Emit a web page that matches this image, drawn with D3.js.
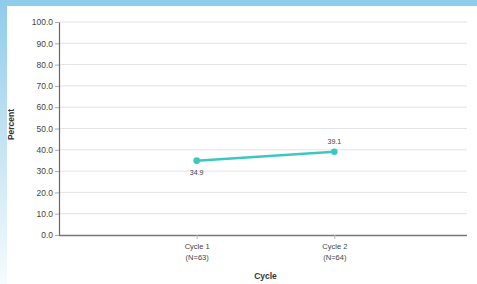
<!DOCTYPE html>
<html>
<head>
<meta charset="utf-8">
<script src="https://cdn.jsdelivr.net/npm/d3@7"></script>
<style>
  html, body { margin: 0; padding: 0; background: #fff; }
  #chart { width: 477px; height: 284px; }
</style>
</head>
<body>
<div id="chart"></div>
<script>
// data
const categories = ["Cycle 1", "Cycle 2"];
const sampleSizes = ["(N=63)", "(N=64)"];
const percents = [34.9, 39.1];
const yTicks = [0, 10, 20, 30, 40, 50, 60, 70, 80, 90, 100];

const W = 477, H = 284;
const margin = {top: 22, right: 5, bottom: 49, left: 59};
const width = W - margin.left - margin.right;
const height = H - margin.top - margin.bottom;

const root = d3.select("#chart").append("svg")
    .attr("width", W)
    .attr("height", H)
    .style("font-family", "Arial, 'Liberation Sans', sans-serif");

// blue frame around the slide
const defs = root.append("defs");
const grad = defs.append("linearGradient")
    .attr("id", "leftFade").attr("x1", 0).attr("y1", 0).attr("x2", 0).attr("y2", 1);
grad.append("stop").attr("offset", "0%").attr("stop-color", "#8fcbea");
grad.append("stop").attr("offset", "60%").attr("stop-color", "#cfe8f6");
grad.append("stop").attr("offset", "100%").attr("stop-color", "#f6fbfe");
root.append("rect").attr("x", 0).attr("y", 0).attr("width", 7).attr("height", H).attr("fill", "url(#leftFade)");
root.append("rect").attr("x", 0).attr("y", 0).attr("width", W).attr("height", 6).attr("fill", "#8fcbea");

const svg = root.append("g")
    .attr("transform", "translate(" + margin.left + "," + margin.top + ")");

const x = d3.scalePoint()
    .domain(categories)
    .range([0, width])
    .padding(1);

const y = d3.scaleLinear()
    .domain([0, 100])
    .range([height, 0]);

// gridlines
svg.append("g")
    .selectAll("line")
    .data(yTicks.filter(d => d > 0))
    .enter().append("line")
    .attr("x1", 0).attr("x2", width - 5)
    .attr("y1", d => y(d)).attr("y2", d => y(d))
    .attr("stroke", "#e3e3e3")
    .attr("stroke-width", 1);

// y axis
const yAxis = svg.append("g")
    .call(d3.axisLeft(y).tickValues(yTicks).tickFormat(d3.format(".1f")).tickSize(4).tickSizeOuter(0));
yAxis.select(".domain").attr("stroke", "#666").attr("stroke-width", 1.2);
yAxis.selectAll(".tick line").attr("stroke", "#aaa");
yAxis.selectAll(".tick text").attr("fill", "#444").attr("font-size", 8.5).attr("x", -6);

// x axis
const xAxis = svg.append("g")
    .attr("transform", "translate(0," + height + ")")
    .call(d3.axisBottom(x).tickSize(4).tickSizeOuter(0));
xAxis.select(".domain").attr("stroke", "#777").attr("stroke-width", 1.5)
    .attr("d", "M0,0.5H" + (width - 5));
xAxis.selectAll(".tick line").attr("stroke", "#bbb");
xAxis.selectAll(".tick text").remove();
xAxis.selectAll(".tick").each(function(d, i) {
    const t = d3.select(this).append("text")
        .attr("fill", "#444")
        .attr("font-size", 7.5)
        .attr("text-anchor", "middle");
    t.append("tspan").attr("x", 0).attr("y", 14).text(d);
    t.append("tspan").attr("x", 0).attr("y", 25).text(sampleSizes[i]);
});

// axis titles
svg.append("text")
    .attr("x", x.range()[0] + width / 2)
    .attr("y", height + 44)
    .attr("text-anchor", "middle")
    .attr("font-size", 8.5)
    .attr("font-weight", "bold")
    .attr("fill", "#333")
    .text("Cycle");

svg.append("text")
    .attr("transform", "translate(" + (-45) + "," + (height / 2 - 4) + ") rotate(-90)")
    .attr("text-anchor", "middle")
    .attr("font-size", 8.5)
    .attr("font-weight", "bold")
    .attr("fill", "#333")
    .text("Percent");

// line
const points = categories.map((c, i) => ({c: c, v: percents[i]}));
const line = d3.line()
    .x(d => x(d.c))
    .y(d => y(d.v));

svg.append("path")
    .datum(points)
    .attr("fill", "none")
    .attr("stroke", "#3cc8c0")
    .attr("stroke-width", 2.5)
    .attr("d", line);

svg.selectAll(".dot")
    .data(points)
    .enter().append("circle")
    .attr("class", "dot")
    .attr("cx", d => x(d.c))
    .attr("cy", d => y(d.v))
    .attr("r", 3.3)
    .attr("fill", "#3cc8c0");

// value labels: first below, second above
svg.selectAll(".lbl")
    .data(points)
    .enter().append("text")
    .attr("class", "lbl")
    .attr("x", d => x(d.c))
    .attr("y", (d, i) => i === 0 ? y(d.v) + 14 : y(d.v) - 8)
    .attr("text-anchor", "middle")
    .attr("font-size", 7)
    .attr("fill", "#444")
    .text(d => d.v.toFixed(1));
</script>
</body>
</html>
